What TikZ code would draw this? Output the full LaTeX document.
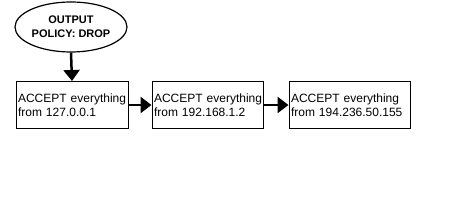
\documentclass[tikz,border=0pt]{standalone}
\usepackage{fontspec}
\setmainfont{Liberation Sans}
\usetikzlibrary{arrows.meta,shapes.geometric}
\begin{document}
\begin{tikzpicture}[x=1pt,y=-1pt,
  rulebox/.style={draw, line width=1pt, minimum height=47pt, inner xsep=2pt, inner ysep=0pt,
    align=left, font=\fontsize{12}{14}\selectfont},
  policy/.style={draw, ellipse, line width=1.2pt, minimum width=112pt, minimum height=50pt, inner sep=0pt,
    align=center, font=\bfseries\fontsize{11}{14}\selectfont},
  flow/.style={line width=2.5pt, -{Triangle[length=11pt,width=16pt]}}]
\useasboundingbox (0,0) rectangle (450,200);
\fill[white] (0,0) rectangle (450,200);
\node[policy] (pol) at (71,27) {OUTPUT\\POLICY: DROP};
\node[rulebox, text width=108pt] (r1) at (72,105) {\mbox{ACCEPT everything}\\\mbox{from 127.0.0.1}};
\node[rulebox, text width=107pt] (r2) at (207.5,105) {\mbox{ACCEPT everything}\\\mbox{from 192.168.1.2}};
\node[rulebox, text width=117pt] (r3) at (349.5,105) {\mbox{ACCEPT everything}\\\mbox{from 194.236.50.155}};
\draw[flow] (pol.south) -- (r1.north);
\draw[flow] (r1.east) -- (r2.west);
\draw[flow] (r2.east) -- (r3.west);
\end{tikzpicture}
\end{document}
